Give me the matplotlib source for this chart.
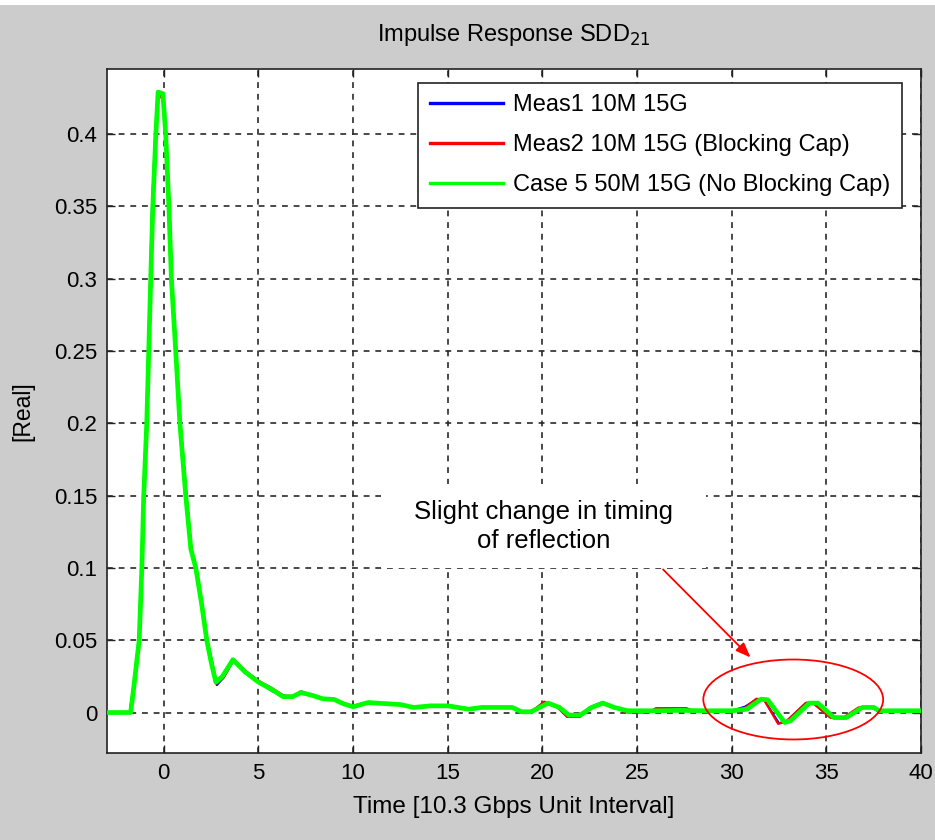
import matplotlib
matplotlib.use("Agg")
import matplotlib.pyplot as plt
from matplotlib.patches import Ellipse, Rectangle

plt.rcParams['font.family'] = ['Liberation Sans', 'DejaVu Sans']

# ---- data ----
x_case5 = [-3, -1.75, -1.58, -1.3, -1.16, -1.06, -0.9, -0.69, -0.58, -0.42, -0.3, -0.05, 0.1,
           0.27, 0.4, 0.63, 0.85, 1.16, 1.43, 1.69, 2.0, 2.27, 2.5, 2.75, 3.1, 3.65,
           4.3, 5.0, 5.7, 6.3, 6.8, 7.25, 7.8, 8.4, 9.0, 9.5, 10.0, 10.8, 11.6, 12.5,
           13.2, 14.1, 15.0, 16.1, 16.8, 18.4, 18.9, 19.4, 20.3, 20.9, 21.4, 22.0,
           22.6, 23.2, 23.8, 24.5, 26.0, 27.3, 28.5, 30.0, 30.8, 31.55, 31.9, 32.8,
           33.1, 34.1, 34.55, 35.4, 36.05, 36.9, 37.5, 37.8, 40]
y_case5 = [0, 0, 0.018, 0.05, 0.1, 0.15, 0.2, 0.3, 0.35, 0.4, 0.429, 0.428, 0.4,
           0.35, 0.3, 0.25, 0.2, 0.15, 0.113, 0.1, 0.075, 0.05, 0.035, 0.021, 0.025, 0.0365,
           0.028, 0.021, 0.016, 0.011, 0.011, 0.0138, 0.012, 0.0095, 0.009, 0.006, 0.004, 0.0069, 0.0062, 0.0055,
           0.0035, 0.0046, 0.0046, 0.0023, 0.0035, 0.0035, 0.0005, 0.0005, 0.0065, 0.0035, -0.0018, -0.0018,
           0.0035, 0.0065, 0.0035, 0.0012, 0.0012, 0.0015, 0.0012, 0.0012, 0.0023, 0.0092, 0.0088, -0.0069,
           -0.0058, 0.0065, 0.0065, -0.0035, -0.0035, 0.0035, 0.0035, 0.0012, 0.0012]

x_meas2 = [-3, -1.8, -1.6, -1.32, -1.18, -1.08, -0.92, -0.7, -0.6, -0.44, -0.3, -0.05, 0.12,
           0.3, 0.43, 0.66, 0.88, 1.2, 1.46, 1.72, 2.02, 2.3, 2.55, 2.8, 3.15, 3.7,
           4.3, 5.0, 5.7, 6.3, 6.8, 7.2, 7.8, 8.4, 9.0, 9.5, 10.0, 10.8, 11.6, 12.5,
           13.2, 14.1, 15.0, 16.1, 16.8, 18.4, 18.9, 19.4, 20.1, 20.8, 21.3, 22.0,
           22.5, 23.1, 23.8, 24.5, 25.6, 26.0, 27.6, 28.0, 28.5, 30.0, 30.6, 31.3, 31.7, 32.45,
           32.9, 33.9, 34.3, 35.2, 35.9, 36.7, 37.4, 37.7, 40]
y_meas2 = [0, 0, 0.018, 0.05, 0.1, 0.15, 0.2, 0.3, 0.35, 0.4, 0.426, 0.425, 0.4,
           0.35, 0.3, 0.25, 0.2, 0.15, 0.113, 0.1, 0.075, 0.05, 0.035, 0.02, 0.024, 0.0365,
           0.029, 0.022, 0.017, 0.012, 0.011, 0.0145, 0.012, 0.0095, 0.009, 0.006, 0.0045, 0.007, 0.0062, 0.0055,
           0.0035, 0.0046, 0.0052, 0.0023, 0.0035, 0.0035, 0.0005, 0.0005, 0.0075, 0.0035, -0.003, -0.003,
           0.0035, 0.0065, 0.0035, 0.0, 0.0, 0.003, 0.003, 0.0012, 0.0012, 0.0012, 0.0023, 0.0095, 0.009, -0.0078,
           -0.006, 0.0065, 0.0065, -0.0035, -0.0035, 0.0035, 0.0035, 0.0012, 0.0012]

x_meas1 = [-3, -1.8, -1.6, -1.33, -1.18, -1.08, -0.92, -0.72, -0.62, -0.45, -0.3, -0.05, 0.12,
           0.3, 0.43, 0.66, 0.88, 1.2, 1.46, 1.72, 2.02, 2.3, 2.55, 2.8, 3.15, 3.7,
           4.3, 5.0, 5.7, 6.3, 6.8, 7.3, 7.8, 8.4, 9.0, 9.5, 10.0, 10.8, 11.6, 12.5,
           13.2, 14.1, 15.0, 16.1, 16.8, 18.4, 18.9, 19.4, 20.1, 20.8, 21.3, 22.0,
           22.5, 23.1, 23.8, 24.5, 26.0, 27.3, 28.5, 30.0, 30.7, 31.35, 31.7, 32.5,
           32.9, 33.95, 34.3, 35.25, 35.9, 36.8, 37.4, 37.7, 40]
y_meas1 = [0, 0, 0.018, 0.05, 0.1, 0.15, 0.2, 0.3, 0.35, 0.4, 0.427, 0.426, 0.4,
           0.35, 0.3, 0.25, 0.2, 0.15, 0.113, 0.1, 0.075, 0.05, 0.035, 0.019, 0.024, 0.0365,
           0.028, 0.021, 0.015, 0.011, 0.011, 0.0145, 0.012, 0.0095, 0.009, 0.006, 0.0045, 0.0072, 0.0062, 0.0055,
           0.0035, 0.0046, 0.0046, 0.0023, 0.0035, 0.0035, 0.0005, 0.0005, 0.007, 0.0035, -0.0025, -0.0025,
           0.0035, 0.0068, 0.0035, 0.0012, 0.0012, 0.0015, 0.0012, 0.0012, 0.004, 0.0093, 0.009, -0.0075,
           -0.006, 0.0068, 0.0065, -0.0035, -0.0035, 0.0035, 0.0035, 0.0012, 0.0012]

series_labels = ["Meas1 10M 15G", "Meas2 10M 15G (Blocking Cap)", "Case 5 50M 15G (No Blocking Cap)"]
x_ticks = [0, 5, 10, 15, 20, 25, 30, 35, 40]
y_ticks = [0, 0.05, 0.1, 0.15, 0.2, 0.25, 0.3, 0.35, 0.4]
y_tick_labels = ["0", "0.05", "0.1", "0.15", "0.2", "0.25", "0.3", "0.35", "0.4"]
annotation_text = "Slight change in timing\nof reflection"

# ---- figure ----
fig = plt.figure(figsize=(9.35, 8.4), dpi=100, facecolor='#cccccc')
fig.patches.append(Rectangle((0, 1 - 5 / 840), 1, 5 / 840, transform=fig.transFigure,
                             facecolor='white', edgecolor='none', zorder=0))
ax = fig.add_axes([107 / 935, 87 / 840, 814 / 935, 684 / 840])
ax.set_facecolor('white')

ax.plot(x_meas1, y_meas1, color='#0000ff', lw=1.6, label=series_labels[0], zorder=3)
ax.plot(x_meas2, y_meas2, color='#ff0000', lw=1.6, label=series_labels[1], zorder=4)
ax.plot(x_case5, y_case5, color='#00ff00', lw=3.4, label=series_labels[2], zorder=5)

ax.set_xlim(-3, 40)
ax.set_ylim(-0.028, 0.445)
ax.set_xticks(x_ticks)
ax.set_yticks(y_ticks)
ax.set_yticklabels(y_tick_labels)
ax.tick_params(direction='in', length=6, width=1, top=True, right=True,
               labelsize=16, pad=7, color='#222222')
ax.grid(True, color='#2a2a2a', linestyle=(0, (3.5, 3.5)), linewidth=1.2)
for s in ax.spines.values():
    s.set_linewidth(1.2)
    s.set_color('#222222')

ax.set_title("Impulse Response SDD$_{21}$", fontsize=17, pad=20)
ax.set_xlabel("Time [10.3 Gbps Unit Interval]", fontsize=17.5, labelpad=9)
ax.set_ylabel("[Real]", fontsize=16.5, labelpad=14)

leg = ax.legend(loc='upper right', bbox_to_anchor=(0.977, 0.98), fontsize=17,
                fancybox=False, framealpha=1, edgecolor='#222222',
                handlelength=3.1, handletextpad=0.42, borderpad=0.5,
                labelspacing=0.76, borderaxespad=0)
leg.get_frame().set_linewidth(1.2)
for h in leg.get_lines():
    h.set_linewidth(2.4)

# annotation box
ax.add_patch(Rectangle((11.45, 0.1), 17.2, 0.0577, facecolor='white', edgecolor='none', zorder=6))
ax.text(20.06, 0.1286, annotation_text, ha='center', va='center', fontsize=18.5,
        linespacing=1.3, zorder=7)
ax.annotate("", xy=(31.1, 0.0367), xytext=(26.27, 0.1003),
            arrowprops=dict(arrowstyle='-|>,head_length=0.9,head_width=0.35',
                            color='red', lw=1.3), zorder=8)
ax.add_patch(Ellipse((33.25, 0.009), 9.5, 0.0553, facecolor='none', edgecolor='red',
                     lw=1.3, zorder=8))

fig.savefig("out.png", dpi=100, facecolor=fig.get_facecolor())
